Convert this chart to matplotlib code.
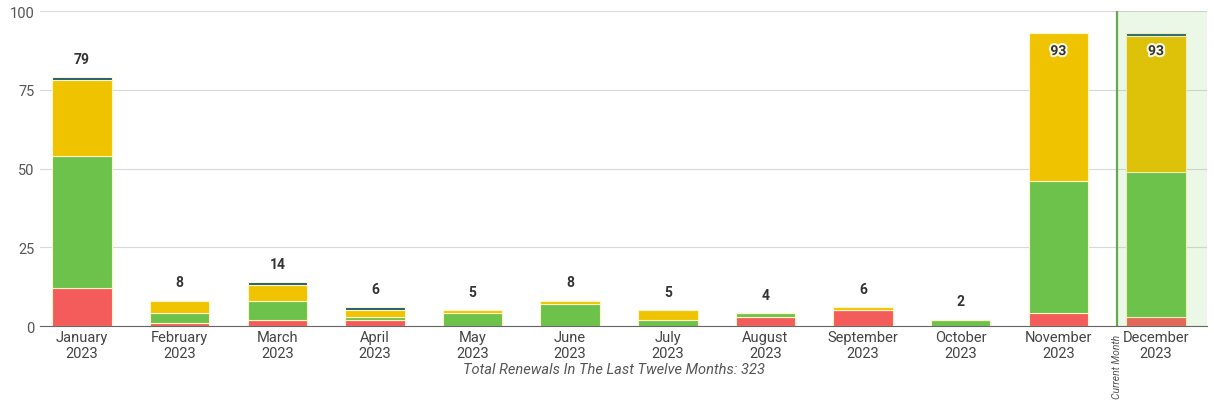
import numpy as np
import matplotlib
matplotlib.use("Agg")
import matplotlib.pyplot as plt
import matplotlib.patheffects as pe

plt.rcParams["font.family"] = ["Roboto", "DejaVu Sans"]

# --- data ---
months = ["January\n2023", "February\n2023", "March\n2023", "April\n2023",
          "May\n2023", "June\n2023", "July\n2023", "August\n2023",
          "September\n2023", "October\n2023", "November\n2023",
          "December\n2023"]
red    = [12, 1, 2, 2, 0, 0, 0, 3, 5, 0, 4, 3]
green  = [42, 3, 6, 1, 4, 7, 2, 1, 0, 2, 42, 46]
yellow = [24, 4, 5, 2, 1, 1, 3, 0, 1, 0, 47, 43]
navy   = [1, 0, 1, 1, 0, 0, 0, 0, 0, 0, 0, 1]
totals = [79, 8, 14, 6, 5, 8, 5, 4, 6, 2, 93, 93]
current_idx = 11
caption = "Total Renewals In The Last Twelve Months: 323"

series = [(red, "#f45b5b"), (green, "#6cc24a"), (yellow, "#f0c300"),
          (navy, "#1f5b78")]

fig = plt.figure(figsize=(12.14, 4.10), dpi=100)
ax = fig.add_axes([0.033, 0.2024, 0.961, 0.7683])

x = np.arange(len(months))
bottom = np.zeros(len(months))
for vals, c in series:
    v = np.array(vals, dtype=float)
    ax.bar(x, v, 0.61, bottom=bottom, color=c, edgecolor="#fff6c8",
           linewidth=0.8, zorder=2)
    bottom += v

halo = [pe.withStroke(linewidth=3, foreground="#fdf8e0")]
for xi, t, top in zip(x, totals, bottom):
    if t > 90:
        ax.text(xi, top - 3.5, str(t), ha="center", va="top", fontsize=10,
                fontweight="bold", color="#333333", zorder=5,
                path_effects=halo)
    else:
        ax.text(xi, top + 3.6, str(t), ha="center", va="bottom", fontsize=10,
                fontweight="bold", color="#333333", zorder=5)

# current month marker
xc = current_idx - 0.40
ax.axvspan(xc, current_idx + 0.52, color="#6cc24a", alpha=0.13, lw=0,
           zorder=3)
ax.axvline(xc, color="#6aa84f", lw=1.6, zorder=4)
ax.text(xc, -2.5, "Current Month", rotation=90, ha="center", va="top",
        fontsize=7.5, style="italic", color="#555555", clip_on=False)

ax.set_xlim(-0.43, current_idx + 0.52)
ax.set_ylim(0, 100)
ax.set_yticks([0, 25, 50, 75, 100])
ax.grid(axis="y", color="#d9d9d9", lw=0.8, zorder=0)
ax.set_axisbelow(True)
for s in ("top", "right", "left"):
    ax.spines[s].set_visible(False)
ax.spines["bottom"].set_color("#666666")
ax.spines["bottom"].set_zorder(6)
ax.set_xticks(x)
ax.set_xticklabels(months, fontsize=10.5, color="#444444", linespacing=1.2)
ax.tick_params(axis="x", length=0, pad=3)
ax.tick_params(axis="y", length=0, labelsize=10.5, labelcolor="#555555", pad=4)

fig.text(0.506, 0.097, caption, ha="center", va="center", fontsize=10.5,
         style="italic", color="#555555")

fig.savefig("out.png", dpi=100)
